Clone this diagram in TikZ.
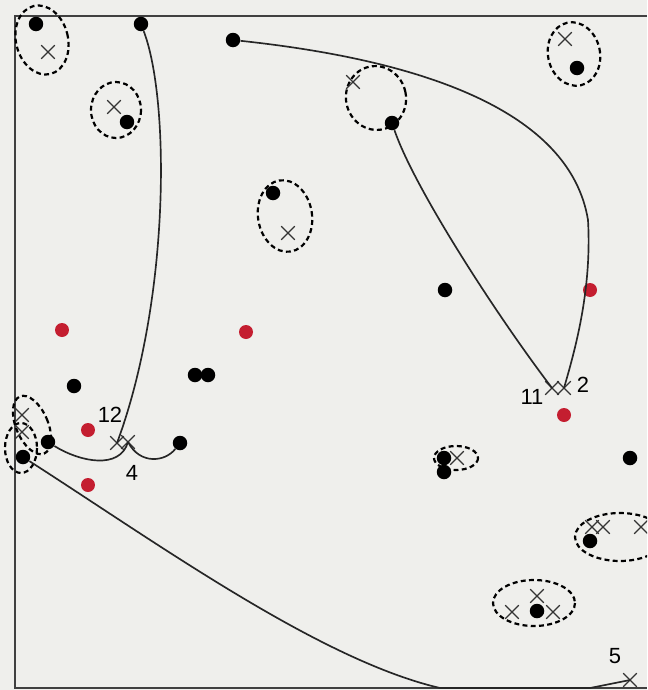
\documentclass[tikz,border=0pt]{standalone}
\usepackage{fontspec}
\setmainfont{Liberation Sans}
\usetikzlibrary{shapes.misc}
\definecolor{paper}{RGB}{239,239,236}
\definecolor{dotred}{RGB}{196,30,48}
\tikzset{
  dot/.style={circle, fill=black, inner sep=0pt, minimum size=0.29cm},
  reddot/.style={circle, fill=dotred, inner sep=0pt, minimum size=0.28cm},
  cross/.style={cross out, draw=black!80, line width=0.65pt, inner sep=0pt, minimum size=0.25cm},
  group/.style={line width=1.25pt, dash pattern=on 2.8pt off 1.9pt},
  link/.style={line width=0.95pt, black!85},
  lab/.style={font=\fontsize{12.5}{14}\selectfont, inner sep=0pt}
}
\begin{document}
\begin{tikzpicture}[x=0.02cm, y=-0.02cm]
% Hintergrund und Rahmen
\fill[paper] (0,0) rectangle (647,690);
\clip (0,0) rectangle (647,690);
\draw[line width=0.9pt, black!75] (647,16) -- (15,16) -- (15,688) -- (647,688);

% Gruppen (gestrichelte Ellipsen)
\draw[group, rotate around={14:(42,40)}] (42,40) ellipse [x radius=26, y radius=35];
\draw[group] (116,110) ellipse [x radius=25, y radius=28];
\draw[group, rotate around={12:(574,54)}] (574,54) ellipse [x radius=26, y radius=32];
\draw[group, rotate around={12:(376,98)}] (376,98) ellipse [x radius=30, y radius=32];
\draw[group, rotate around={9:(285,216)}] (285,216) ellipse [x radius=27, y radius=36];
\draw[group, rotate around={23:(32,425)}] (32,425) ellipse [x radius=16, y radius=31];
\draw[group] (21,448) ellipse [x radius=16, y radius=25];
\draw[group] (456,458) ellipse [x radius=22, y radius=12];
\draw[group] (620,537) ellipse [x radius=45, y radius=24];
\draw[group] (534,603) ellipse [x radius=41, y radius=23];

% Punkte
\foreach \n/\x/\y in {a1/36/24, a2/141/24, a3/233/40, a4/127/122, a5/577/68,
    a6/392/123, a7/273/193, a8/445/290, a9/74/386, a10/195/375, a11/208/375,
    a12/48/442, a13/23/457, a14/180/443, a15/444/458, a16/444/472,
    a17/630/458, a18/590/541, a19/537/611}
  \node[dot] (\n) at (\x,\y) {};
\foreach \n/\x/\y in {r1/62/330, r2/246/332, r3/590/290, r4/88/430, r5/88/485, r6/564/415}
  \node[reddot] (\n) at (\x,\y) {};

% Kreuze
\foreach \n/\x/\y in {x1/48/52, x2/114/107, x3/565/39, x4/353/82, x5/288/233,
    x6/22/415, x7/22/432, x8/457/458, x9/592/527, x10/603/527, x11/641/527,
    x12/512/612, x13/537/596, x14/553/612,
    k12/117/443, k4/128/442, k11/552/388, k2/564/388, k5/630/680}
  \node[cross] (\n) at (\x,\y) {};

% Verbindungen
\draw[link] (a2) .. controls (170,100) and (170,300) .. (k12.center);
\draw[link] (a3) .. controls (420,60) and (570,110) .. (588,220)
  .. controls (592,290) and (575,350) .. (k2.center);
\draw[link] (a6) .. controls (415,190) and (500,320) .. (k11.center);
\draw[link] (a12) .. controls (80,462) and (120,470) .. (k4.center);
\draw[link] (k4.center) .. controls (140,465) and (165,462) .. (a14);
\draw[link] (a13) .. controls (160,545) and (320,660) .. (440,688) -- (590,688) -- (k5.center);

% Beschriftungen
\node[lab] (l12) at (110,415) {12};
\node[lab] (l4) at (132,473) {4};
\node[lab] (l11) at (532,397) {11};
\node[lab] (l2) at (583,385) {2};
\node[lab] (l5) at (615,656) {5};
\end{tikzpicture}
\end{document}
